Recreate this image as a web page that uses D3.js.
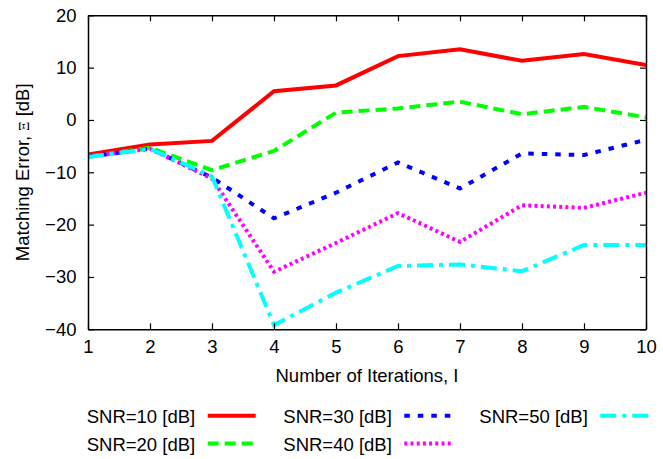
<!DOCTYPE html>
<html>
<head>
<meta charset="utf-8">
<script src="https://cdn.jsdelivr.net/npm/d3@7"></script>
<style>
  html, body { margin: 0; padding: 0; background: #fff; }
  svg { display: block; font-family: "Liberation Sans", Arial, Helvetica, sans-serif; }
</style>
</head>
<body>
<svg id="chart" width="663" height="459"></svg>
<script>
// Iteration counts on the x axis
const iterations = [1, 2, 3, 4, 5, 6, 7, 8, 9, 10];

// Matching error (dB) per SNR level
const snr10 = [-6.6, -4.7, -4.0, 5.5, 6.6, 12.2, 13.5, 11.3, 12.6, 10.5];
const snr20 = [-7.0, -5.3, -9.6, -5.9, 1.4, 2.2, 3.5, 1.1, 2.5, 0.5];
const snr30 = [-7.0, -5.5, -11.0, -18.8, -13.9, -8.1, -13.1, -6.4, -6.7, -3.8];
const snr40 = [-7.0, -5.5, -11.2, -29.0, -23.5, -17.8, -23.3, -16.3, -16.8, -13.9];
const snr50 = [-7.1, -5.5, -10.8, -39.2, -33.0, -27.9, -27.6, -28.9, -23.9, -23.9];

const seriesLabels = ["SNR=10 [dB]", "SNR=20 [dB]", "SNR=30 [dB]", "SNR=40 [dB]", "SNR=50 [dB]"];
const xTicks = [1, 2, 3, 4, 5, 6, 7, 8, 9, 10];
const yTicks = [-40, -30, -20, -10, 0, 10, 20];

const series = [
  { label: seriesLabels[0], values: snr10, color: "#ff0000", dash: null },
  { label: seriesLabels[1], values: snr20, color: "#00ff00", dash: "11,6" },
  { label: seriesLabels[2], values: snr30, color: "#0000ff", dash: "5.5,8" },
  { label: seriesLabels[3], values: snr40, color: "#ff00ff", dash: "3,3.2" },
  { label: seriesLabels[4], values: snr50, color: "#00ffff", dash: "16,6,4,6" }
];

const svg = d3.select("#chart");
const plot = { left: 88, right: 646, top: 15.3, bottom: 329.3 };
const fontSize = 18.5;

const x = d3.scaleLinear().domain([1, 10]).range([plot.left, plot.right]);
const y = d3.scaleLinear().domain([-40, 20]).range([plot.bottom, plot.top]);

// Data lines (clipped to the plot frame)
svg.append("clipPath").attr("id", "plotClip")
  .append("rect")
  .attr("x", plot.left).attr("y", plot.top - 3)
  .attr("width", plot.right - plot.left).attr("height", plot.bottom - plot.top + 3);

const line = d3.line()
  .x((d, i) => x(iterations[i]))
  .y(d => y(d));

const linesG = svg.append("g").attr("clip-path", "url(#plotClip)");
series.forEach(s => {
  linesG.append("path")
    .datum(s.values)
    .attr("d", line)
    .attr("fill", "none")
    .attr("stroke", s.color)
    .attr("stroke-width", 4)
    .attr("stroke-linejoin", "miter")
    .attr("stroke-dasharray", s.dash);
});

// Axes: labelled bottom/left, tick-only top/right, all ticks pointing inward
function styleAxis(g) {
  g.selectAll(".domain").attr("stroke", "#000").attr("stroke-width", 1.5);
  g.selectAll(".tick line").attr("stroke", "#000").attr("stroke-width", 1.2);
  g.selectAll("text").attr("font-size", fontSize).attr("fill", "#000")
    .attr("font-family", "'Liberation Sans', Arial, sans-serif");
}

svg.append("g")
  .attr("transform", `translate(0,${plot.bottom})`)
  .call(d3.axisBottom(x).tickValues(xTicks).tickFormat(d3.format("d"))
    .tickSizeInner(-6).tickSizeOuter(0).tickPadding(11))
  .call(styleAxis);

svg.append("g")
  .attr("transform", `translate(0,${plot.top})`)
  .call(d3.axisTop(x).tickValues(xTicks).tickFormat("")
    .tickSizeInner(-6).tickSizeOuter(0))
  .call(styleAxis);

svg.append("g")
  .attr("transform", `translate(${plot.left},0)`)
  .call(d3.axisLeft(y).tickValues(yTicks).tickFormat(d3.format("d"))
    .tickSizeInner(-6).tickSizeOuter(0).tickPadding(11.5))
  .call(styleAxis);

svg.append("g")
  .attr("transform", `translate(${plot.right},0)`)
  .call(d3.axisRight(y).tickValues(yTicks).tickFormat("")
    .tickSizeInner(-6).tickSizeOuter(0))
  .call(styleAxis);

// Axis titles
svg.append("text")
  .attr("x", (plot.left + plot.right) / 2)
  .attr("y", 382)
  .attr("text-anchor", "middle")
  .attr("font-size", fontSize)
  .text("Number of Iterations, I");

const yTitle = svg.append("text")
  .attr("transform", `translate(29,${(plot.top + plot.bottom) / 2}) rotate(-90)`)
  .attr("text-anchor", "middle")
  .attr("font-size", fontSize);
yTitle.append("tspan").text("Matching Error, ");
yTitle.append("tspan").attr("font-size", 13).attr("font-family", "'DejaVu Serif', serif").text("Ξ");
yTitle.append("tspan").text(" [dB]");

// Legend: three columns, two rows
const legendCols = [86.7, 283.3, 479.3];
const legendRows = [423.3, 451];
series.forEach((s, i) => {
  const col = Math.floor(i / 2);
  const row = i % 2;
  const tx = legendCols[col];
  const ty = legendRows[row];
  svg.append("text")
    .attr("x", tx).attr("y", ty)
    .attr("font-size", fontSize)
    .text(s.label);
  svg.append("line")
    .attr("x1", tx + 121).attr("x2", tx + 169)
    .attr("y1", ty - 7.5).attr("y2", ty - 7.5)
    .attr("stroke", s.color)
    .attr("stroke-width", 4)
    .attr("stroke-dasharray", s.dash);
});
</script>
</body>
</html>
